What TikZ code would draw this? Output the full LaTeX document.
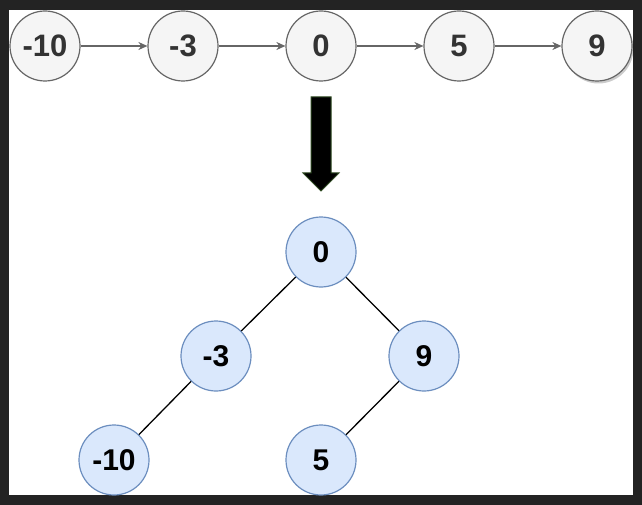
\documentclass[tikz,border=0pt]{standalone}
\usepackage{fontspec}
\setmainfont{Liberation Sans}
\usetikzlibrary{arrows.meta,shadows}
\definecolor{darkbg}{HTML}{232323}
\definecolor{listfill}{HTML}{F5F5F5}
\definecolor{listdraw}{HTML}{666666}
\definecolor{listtext}{HTML}{333333}
\definecolor{treefill}{HTML}{DAE8FC}
\definecolor{treedraw}{HTML}{6C8EBF}
\definecolor{arrowedge}{HTML}{2F4A22}
\tikzset{
  listnode/.style={circle,draw=listdraw,fill=listfill,line width=1.2pt,minimum size=70pt,inner sep=0pt,text=listtext,font=\fontsize{31}{31}\selectfont\bfseries},
  treenode/.style={circle,draw=treedraw,fill=treefill,line width=1.2pt,minimum size=70pt,inner sep=0pt,text=black,font=\fontsize{30}{30}\selectfont\bfseries},
  listlink/.style={draw=listdraw,line width=1.3pt,-{Stealth[length=9pt,width=8pt]}},
  treelink/.style={draw=black,line width=1.3pt},
}
\begin{document}
\begin{tikzpicture}[x=1pt,y=-1pt]
\useasboundingbox (0,0) rectangle (642,505);
\fill[darkbg] (0,0) rectangle (642,505);
\fill[white] (9,10) rectangle (633,495);
% linked list
\node[listnode] (l1) at (45,46) {-10};
\node[listnode] (l2) at (183,46) {-3};
\node[listnode] (l3) at (321,46) {0};
\node[listnode] (l4) at (459,46) {5};
\node[listnode,drop shadow={shadow xshift=1.5pt,shadow yshift=-2.5pt,opacity=0.2,fill=black}] (l5) at (597,46) {9};
\draw[listlink] (l1) -- (l2);
\draw[listlink] (l2) -- (l3);
\draw[listlink] (l3) -- (l4);
\draw[listlink] (l4) -- (l5);
% big arrow
\filldraw[fill=black,draw=arrowedge,line width=1pt]
  (311,97) -- (331,97) -- (331,173) -- (339,173) -- (321,191) -- (303,173) -- (311,173) -- cycle;
% tree
\node[treenode] (t0) at (321,252) {0};
\node[treenode] (tm3) at (216,356) {-3};
\node[treenode] (t9) at (424,356) {9};
\node[treenode] (tm10) at (114,460) {-10};
\node[treenode] (t5) at (321,460) {5};
\draw[treelink] (t0) -- (tm3);
\draw[treelink] (t0) -- (t9);
\draw[treelink] (tm3) -- (tm10);
\draw[treelink] (t9) -- (t5);
\end{tikzpicture}
\end{document}
